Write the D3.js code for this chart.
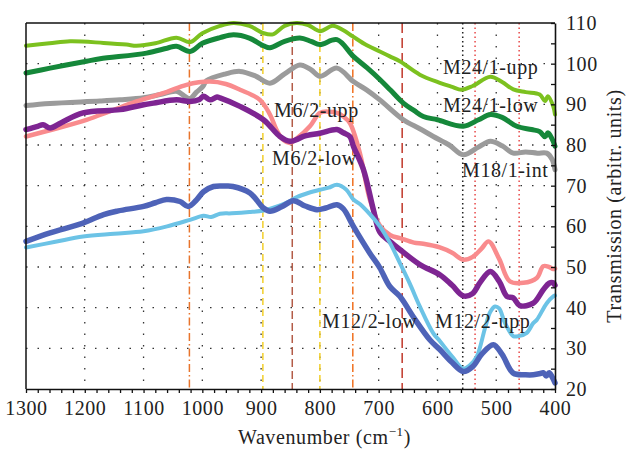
<!DOCTYPE html>
<html><head><meta charset="utf-8">
<script src="https://cdn.jsdelivr.net/npm/d3@7"></script>
<style>
html,body{margin:0;padding:0;background:#fff;}
svg text{font-family:"Liberation Serif","Times New Roman",serif;fill:#222;letter-spacing:0.6px;}
</style></head>
<body><svg id="c" width="626" height="449"></svg>
<script>
// ---------- data ----------
const xTicks = [1300,1200,1100,1000,900,800,700,600,500,400];
const yTicks = [20,30,40,50,60,70,80,90,100,110];
const refWavenumbers = [1022, 897, 847, 800, 744, 660, 557, 536, 461];

const seriesNames = ["M18/1-int","M24/1-low","M24/1-upp","M6/2-upp","M6/2-low","M12/2-upp","M12/2-low"];

const wn_M24_1_upp = [1300,1260,1225,1168,1129,1112,1080,1044,1021,1000,970,947,920,896,880,860,840,820,800,778,760,744,720,698,681,664,630,596,575,559,540,510,490,471,450,426,417,412,403,400];
const v_M24_1_upp  = [104.4,105,105.5,105.1,104.7,104.4,105,106.4,105.3,107.5,109.3,110,109.3,107.5,107.2,109.3,110,109.5,108,109.3,108.2,106.7,104.5,103,101.8,100.6,97.3,95.3,94.3,93.6,94.5,96.8,95.5,93.7,93,92.4,90.8,92,89.5,87.5];

const wn_M24_1_low = [1300,1259,1197,1174,1095,1060,1044,1021,1000,970,947,920,896,885,860,834,815,800,771,743,720,698,680,658,640,624,600,556,530,510,490,465,440,426,417,412,405,400];
const v_M24_1_low  = [97.7,98.9,100.6,101.2,102.6,103.8,104.3,103,105,106.4,107.1,106.3,104.4,103.9,105.5,106.3,105.5,104.7,105.9,101.8,99,96.1,93.5,90.3,88.5,87,86.2,84.6,86.2,87.5,86.8,84.6,83.8,83.3,82,83,81.5,79.7];

const wn_M18_1_int = [1300,1259,1174,1140,1100,1072,1044,1030,1021,1010,999,993,960,936,910,885,860,834,815,800,771,743,720,698,658,630,607,580,556,530,510,490,471,450,430,414,405,400];
const v_M18_1_int  = [89.7,90.2,90.8,91.1,91.6,92.4,93.2,92,91.4,93,94.4,95.8,97.5,98.1,97,95.2,97.5,99.7,98.5,96.9,98.9,95.6,93.5,91.1,86.2,84,82.1,80,77.6,79.5,80.9,79.8,78,78.3,78,78,76.5,73.9];

const wn_M6_2_upp = [1300,1250,1197,1157,1112,1061,1027,987,960,936,902,885,874,862,851,840,817,800,785,771,760,749,732,715,698,680,664,640,624,596,575,556,540,525,513,495,477,454,431,420,410,403,400];
const v_M6_2_upp  = [82.1,84,86.2,88.3,90.7,93,94.8,95.6,95,93.6,91.1,87.5,83.8,81.2,80.5,81.5,84.6,87.9,88.2,87.9,87,85.4,78,66.6,60.2,57.8,57.1,56,55.7,54.8,53.5,51.8,52.5,54.5,56.3,52,46.5,46.1,47.3,50.2,50,49.5,49.6];

const wn_M6_2_low = [1300,1280,1271,1259,1240,1203,1140,1100,1083,1044,1021,1005,998,987,975,970,936,896,868,851,840,828,800,771,760,749,743,726,709,698,681,664,630,596,575,556,540,528,510,495,482,471,460,437,420,410,403,400];
const v_M6_2_low  = [83.8,84.6,85,84.2,85.5,87.9,88.7,89.9,90.3,91.1,90.7,91.2,92,91.1,91.8,91.6,89.5,86.2,82.1,80.9,81.3,82.1,82.9,83.8,83,82.1,79.7,74,64.1,58.6,56.3,54.3,50.6,48.1,45.5,42.9,43.5,46.1,48.9,46.5,42.8,42.4,40.5,41.1,44.4,46,46.1,45.5];

const wn_M12_2_low = [1300,1259,1203,1168,1143,1100,1080,1061,1038,1024,1010,998,981,960,948,919,896,885,865,845,825,805,790,771,760,743,715,698,681,664,640,613,596,575,556,540,525,505,490,471,450,437,425,420,415,410,405,400];
const v_M12_2_low  = [56.3,58.4,60.8,62.9,63.8,64.9,65.8,66.6,66.1,64.9,66.5,68.5,69.8,69.9,69.8,68.2,64.5,63.7,64.8,66.3,65,64.1,64.5,65.3,64.3,60,53.4,49.8,45.2,42.8,37.5,32.1,29.7,26.5,24.3,25.5,28.5,30.9,28.5,23.9,23.5,23.5,23.8,24,23.2,24,23,21.5];

const wn_M12_2_upp = [1300,1250,1203,1150,1100,1060,1021,998,985,970,950,920,896,870,850,839,820,800,785,771,755,743,732,715,698,681,664,647,630,607,596,575,556,545,533,519,510,502,495,485,471,462,448,437,431,414,403,400];
const v_M12_2_upp  = [54.8,56.2,57.5,58.2,58.8,60,61.6,62.6,62.3,63.1,63.2,63.5,63.9,65,66.3,67.2,68.2,69,69.5,70.2,69,66.6,65.5,63,60,56,51,45.9,40.3,33.7,31.8,28,25,25.8,28,35,39,40.3,39.8,36.2,33,33,33.8,36.2,37,41.1,42.8,43];

const seriesWn = [wn_M18_1_int, wn_M24_1_low, wn_M24_1_upp, wn_M6_2_upp, wn_M6_2_low, wn_M12_2_upp, wn_M12_2_low];
const seriesV  = [v_M18_1_int, v_M24_1_low, v_M24_1_upp, v_M6_2_upp, v_M6_2_low, v_M12_2_upp, v_M12_2_low];

// ---------- styles ----------
const seriesStyle = {
  "M24/1-upp":{color:"#7cc11f",w:4},
  "M24/1-low":{color:"#15883a",w:5},
  "M18/1-int":{color:"#9b9b9b",w:5},
  "M6/2-upp":{color:"#f98b8d",w:4.5},
  "M6/2-low":{color:"#7e2592",w:5.5},
  "M12/2-low":{color:"#4e63b8",w:5.5},
  "M12/2-upp":{color:"#6cc3e6",w:4}
};
const refStyle = [
  {c:"#e8742c",d:"8,3,1.5,3"},
  {c:"#f2cf2a",d:"7,4"},
  {c:"#b35c48",d:"8,4"},
  {c:"#f2cf2a",d:"7,4"},
  {c:"#f07020",d:"8,3,1.5,3"},
  {c:"#c0392b",d:"10,5"},
  {c:"#222",d:"1.5,3"},
  {c:"#e84848",d:"1.5,3"},
  {c:"#e84848",d:"1.5,3"}
];
const labelPos = {
  "M24/1-upp":[443,74],
  "M24/1-low":[443,112],
  "M18/1-int":[462,177],
  "M6/2-upp":[274,117],
  "M6/2-low":[272,165],
  "M12/2-low":[322,328],
  "M12/2-upp":[435,328]
};

// ---------- chart ----------
const svg = d3.select("#c");
const L=26,R=555,T=23,B=389;
const x = d3.scaleLinear().domain([1300,400]).range([L,R]);
const y = d3.scaleLinear().domain([20,110]).range([B,T]);

// grid
const grid = svg.append("g");
grid.selectAll("line.gx").data(xTicks.filter(v=>v<1300&&v>400)).join("line")
  .attr("x1",d=>x(d)).attr("x2",d=>x(d)).attr("y1",T).attr("y2",B)
  .attr("stroke","#333").attr("stroke-width",1.3).attr("stroke-dasharray","1.5,10");
grid.selectAll("line.gy").data(yTicks.filter(v=>v>20&&v<110)).join("line")
  .attr("x1",L).attr("x2",R).attr("y1",d=>y(d)).attr("y2",d=>y(d))
  .attr("stroke","#333").attr("stroke-width",1.3).attr("stroke-dasharray","1.5,10");

// reference lines
svg.append("g").selectAll("line").data(refWavenumbers).join("line")
  .attr("x1",d=>x(d)).attr("x2",d=>x(d)).attr("y1",T).attr("y2",B)
  .attr("stroke",(d,i)=>refStyle[i].c).attr("stroke-width",1.5)
  .attr("stroke-dasharray",(d,i)=>refStyle[i].d);

// curves
const line = d3.line().x(d=>x(d[0])).y(d=>y(d[1])).curve(d3.curveCatmullRom.alpha(0.5));
seriesNames.forEach((name,i)=>{
  const pts = seriesWn[i].map((w,j)=>[w,seriesV[i][j]]);
  svg.append("path").datum(pts).attr("d",line).attr("fill","none")
    .attr("stroke",seriesStyle[name].color).attr("stroke-width",seriesStyle[name].w)
    .attr("stroke-linejoin","round").attr("stroke-linecap","round");
});

// frame
svg.append("line").attr("x1",L).attr("x2",R).attr("y1",T).attr("y2",T).attr("stroke","#111").attr("stroke-width",1.5);
svg.append("line").attr("x1",L).attr("x2",L).attr("y1",T).attr("y2",B).attr("stroke","#111").attr("stroke-width",1.5);

// axes
const xMinor = d3.range(1300,399,-20);
const xa = svg.append("g").attr("transform",`translate(0,${B})`)
  .call(d3.axisBottom(x).tickValues(xMinor).tickSize(4).tickSizeOuter(0).tickPadding(8)
    .tickFormat(d=>xTicks.includes(d)?d:""));
const yMinor = d3.range(20,110.1,5);
const ya = svg.append("g").attr("transform",`translate(${R},0)`)
  .call(d3.axisRight(y).tickValues(yMinor).tickSize(-4).tickSizeOuter(0).tickPadding(11)
    .tickFormat(d=>yTicks.includes(d)?d:""));
[xa,ya].forEach(a=>{
  a.select(".domain").attr("stroke","#111").attr("stroke-width",1.6);
  a.selectAll(".tick line").attr("stroke","#111").attr("stroke-width",1.3);
  a.selectAll("text").attr("font-size",20).attr("font-family","Liberation Serif").attr("fill","#222");
});

// labels
seriesNames.forEach(name=>{
  svg.append("text").attr("x",labelPos[name][0]).attr("y",labelPos[name][1])
    .attr("font-size",20).text(name);
});

// axis titles
const xt = svg.append("text").attr("x",238).attr("y",444).attr("font-size",20);
xt.append("tspan").text("Wavenumber (cm");
xt.append("tspan").attr("font-size",13).attr("dy",-8).text("−1");
xt.append("tspan").attr("dy",8).text(")");

svg.append("text").attr("transform",`translate(621,${(T+B)/2}) rotate(-90)`)
  .attr("text-anchor","middle").attr("font-size",20).text("Transmission (arbitr. units)");
</script></body></html>
